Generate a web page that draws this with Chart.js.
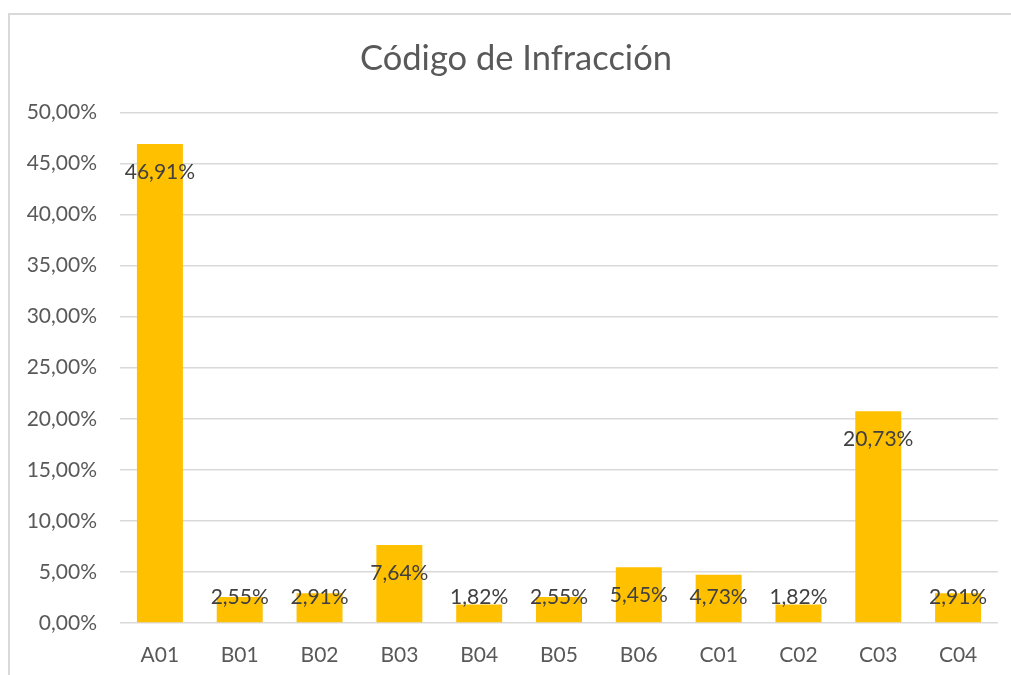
<!DOCTYPE html>
<html>
<head>
<meta charset="utf-8">
<script src="https://cdn.jsdelivr.net/npm/chart.js@4.4.1/dist/chart.umd.min.js"></script>
<style>
  html, body { margin: 0; padding: 0; background: #fff; }
  #wrap { position: relative; width: 1011px; height: 675px; overflow: hidden; }
  #frame { position: absolute; left: 8px; top: 13px; width: 1100px; height: 800px; border-top: 2px solid #d9d9d9; border-left: 2px solid #d9d9d9; box-sizing: border-box; }
  canvas { position: absolute; left: 0; top: 0; }
</style>
</head>
<body>
<div id="wrap">
  <div id="frame"></div>
  <canvas id="c" width="1011" height="675"></canvas>
</div>
<script>
const categories = ["A01", "B01", "B02", "B03", "B04", "B05", "B06", "C01", "C02", "C03", "C04"];
const values = [46.91, 2.55, 2.91, 7.64, 1.82, 2.55, 5.45, 4.73, 1.82, 20.73, 2.91];
const yTicks = [0, 5, 10, 15, 20, 25, 30, 35, 40, 45, 50];
const titleText = "Código de Infracción";

const FONT = "Lato, 'Liberation Sans', sans-serif";
const fmt = v => v.toFixed(2).replace('.', ',') + '%';

const labelPlugin = {
  id: 'barLabels',
  afterLayout(chart) {
    const t = chart.titleBlock;
    if (t) { t.left = 34; t.right = 998; t.width = t.right - t.left; }
  },
  afterDatasetsDraw(chart) {
    const ctx = chart.ctx;
    const meta = chart.getDatasetMeta(0);
    const base = chart.scales.y.getPixelForValue(0);
    ctx.save();
    ctx.font = "21px " + FONT;
    ctx.fillStyle = "#404040";
    ctx.textAlign = "center";
    ctx.textBaseline = "middle";
    meta.data.forEach((bar, i) => {
      const y = Math.min(bar.y + 28, base - 26);
      ctx.fillText(fmt(values[i]), bar.x, y);
    });
    ctx.restore();
  }
};

new Chart(document.getElementById('c'), {
  type: 'bar',
  data: {
    labels: categories,
    datasets: [{
      data: values,
      backgroundColor: '#FFC000',
      borderWidth: 0,
      categoryPercentage: 1.0,
      barPercentage: 0.576
    }]
  },
  options: {
    responsive: false,
    animation: false,
    devicePixelRatio: 1,
    layout: { padding: { left: 0, right: 13, top: 38, bottom: 0 } },
    plugins: {
      legend: { display: false },
      tooltip: { enabled: false },
      title: {
        display: true,
        text: titleText,
        color: '#595959',
        font: { family: FONT, size: 34.5, weight: 'normal' },
        padding: { top: 0, bottom: 33 }
      }
    },
    scales: {
      x: {
        grid: { display: false, drawTicks: false },
        border: { display: false },
        ticks: { color: '#595959', font: { family: FONT, size: 21 }, padding: 20 },
        afterFit(s) { s.height = 52; }
      },
      y: {
        min: 0, max: 50,
        afterBuildTicks(s) { s.ticks = yTicks.map(v => ({ value: v })); },
        grid: { color: '#d9d9d9', lineWidth: 1.5, drawTicks: false },
        border: { display: false },
        ticks: {
          color: '#595959',
          font: { family: FONT, size: 21 },
          padding: 23,
          callback: v => fmt(v)
        },
        afterFit(s) { s.width = 120; }
      }
    }
  },
  plugins: [labelPlugin]
});
</script>
</body>
</html>
